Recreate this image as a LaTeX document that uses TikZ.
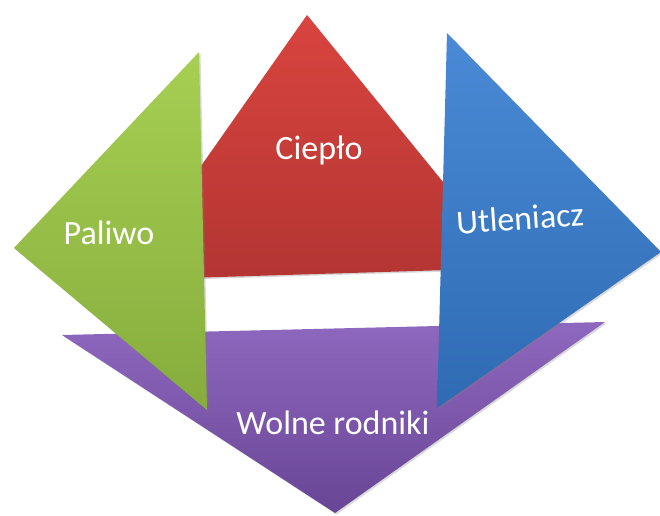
\documentclass[tikz,border=0pt]{standalone}
\usepackage{fontspec}
\setmainfont{Carlito}
\usetikzlibrary{shadows}

\definecolor{redtop}{HTML}{D9443F}
\definecolor{redbot}{HTML}{B33532}
\definecolor{greentop}{HTML}{A6CF53}
\definecolor{greenbot}{HTML}{86AD3C}
\definecolor{bluetop}{HTML}{4A8AD6}
\definecolor{bluebot}{HTML}{2E6BB3}
\definecolor{purpletop}{HTML}{8E68BE}
\definecolor{purplebot}{HTML}{694596}

\tikzset{
  piece/.style={drop shadow={opacity=0.3, shadow xshift=1.5pt, shadow yshift=-1.5pt}},
  label/.style={text=white, font=\fontsize{34}{40}\selectfont, inner sep=0pt}
}

\begin{document}
\begin{tikzpicture}[x=1pt, y=-1pt]
    \useasboundingbox (0,0) rectangle (660,515);
    % ciepło (partly hidden)
    \shade[piece, top color=redtop, bottom color=redbot] (307,15) -- (513,268) -- (121,280) -- cycle;
    % wolne rodniki
    \shade[piece, top color=purpletop, bottom color=purplebot] (62,335) -- (605,322) -- (335,513) -- cycle;
    % paliwo
    \shade[piece, top color=greentop, bottom color=greenbot] (199,52) -- (207,410) -- (14,248) -- cycle;
    % utleniacz
    \shade[piece, top color=bluetop, bottom color=bluebot] (447,33) -- (661,252) -- (437,408) -- cycle;
    \node[label] (cieplo) at (319,150) {Ciepło};
    \node[label] (paliwo) at (109,233) {Paliwo};
    \node[label, rotate=4] (utleniacz) at (520,218) {Utleniacz};
    \node[label] (rodniki) at (333,423) {Wolne rodniki};
\end{tikzpicture}
\end{document}
